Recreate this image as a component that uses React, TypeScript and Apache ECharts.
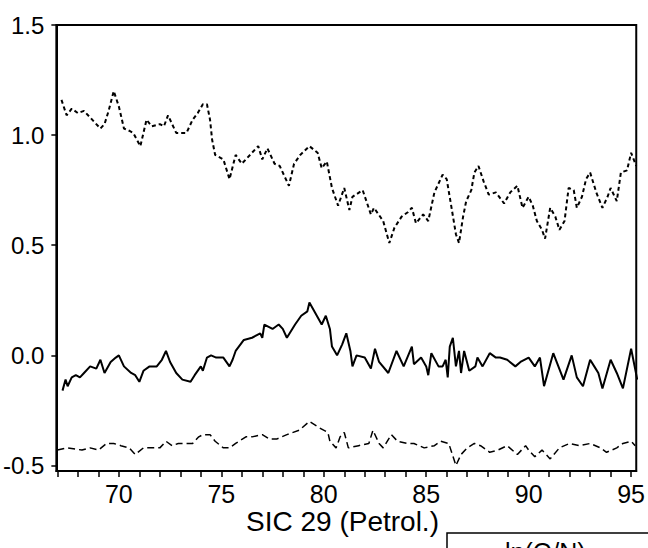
import React, { useEffect, useRef } from "react";
import * as echarts from "echarts";

// x positions (years) and values
const topYears = [67.2,67.45,67.7,68.0,68.3,68.6,68.8,69.1,69.3,69.5,69.75,70.0,70.25,70.5,70.7,71.05,71.35,71.6,72.0,72.2,72.4,72.8,73.1,73.3,73.6,73.85,74.1,74.3,74.45,74.55,74.7,75.1,75.4,75.7,76.0,76.4,76.8,77.0,77.25,77.6,77.85,78.3,78.55,78.85,79.3,79.7,79.9,80.15,80.4,80.7,81.0,81.25,81.4,81.9,82.3,82.45,82.9,83.2,83.45,83.8,84.1,84.3,84.5,84.85,85.1,85.4,85.8,86.0,86.2,86.45,86.6,86.8,86.95,87.2,87.35,87.55,87.8,88.05,88.4,88.8,89.1,89.45,89.7,90.0,90.2,90.4,90.65,90.8,91.05,91.3,91.5,91.75,91.95,92.2,92.35,92.6,92.8,93.0,93.3,93.6,93.85,94.0,94.3,94.5,94.8,95.0,95.25];
const topValues = [1.16,1.09,1.12,1.10,1.11,1.08,1.06,1.03,1.05,1.11,1.20,1.13,1.03,1.02,1.01,0.95,1.07,1.04,1.05,1.04,1.09,1.01,1.01,1.01,1.07,1.10,1.14,1.14,1.07,0.98,0.91,0.89,0.80,0.91,0.87,0.91,0.95,0.89,0.94,0.87,0.86,0.77,0.87,0.91,0.95,0.92,0.85,0.88,0.76,0.68,0.76,0.66,0.72,0.75,0.64,0.67,0.61,0.51,0.58,0.63,0.65,0.67,0.60,0.64,0.61,0.74,0.82,0.80,0.69,0.55,0.51,0.63,0.70,0.75,0.83,0.86,0.79,0.73,0.74,0.69,0.74,0.77,0.67,0.72,0.68,0.61,0.57,0.53,0.67,0.63,0.57,0.61,0.76,0.75,0.67,0.72,0.80,0.83,0.74,0.67,0.72,0.76,0.70,0.83,0.84,0.92,0.86];

const midYears = [67.25,67.4,67.5,67.7,67.9,68.1,68.3,68.6,68.9,69.1,69.3,69.6,69.85,70.0,70.25,70.6,70.8,71.0,71.2,71.5,71.85,72.1,72.3,72.5,72.8,73.1,73.5,73.7,74.0,74.1,74.3,74.5,74.75,75.1,75.4,75.55,75.7,76.1,76.5,76.9,77.0,77.1,77.5,77.8,78.0,78.2,78.6,78.9,79.2,79.3,79.6,79.9,80.1,80.3,80.4,80.65,80.9,81.1,81.3,81.4,81.6,82.0,82.3,82.5,82.7,83.15,83.55,83.9,84.3,84.4,84.75,85.0,85.1,85.25,85.6,85.8,85.95,86.05,86.15,86.3,86.45,86.6,86.7,86.85,87.1,87.4,87.5,87.75,88.1,88.4,88.6,88.95,89.35,89.6,90.0,90.3,90.55,90.75,91.2,91.7,92.1,92.35,92.65,93.0,93.2,93.4,93.6,94.0,94.3,94.6,95.0,95.3];
const midValues = [-0.16,-0.11,-0.14,-0.10,-0.09,-0.10,-0.08,-0.05,-0.06,-0.02,-0.08,-0.03,-0.01,0.00,-0.05,-0.08,-0.09,-0.12,-0.07,-0.05,-0.05,-0.02,0.02,-0.03,-0.08,-0.11,-0.12,-0.09,-0.05,-0.07,-0.01,0.00,-0.01,-0.01,-0.05,-0.02,0.02,0.07,0.08,0.10,0.08,0.14,0.12,0.14,0.12,0.08,0.14,0.18,0.20,0.24,0.19,0.14,0.18,0.12,0.04,0.00,0.05,0.10,0.02,-0.05,0.00,-0.01,-0.06,0.03,-0.03,-0.08,0.02,-0.05,0.04,-0.04,-0.01,-0.05,-0.09,0.01,-0.05,-0.05,-0.02,-0.10,0.04,0.08,-0.05,0.02,-0.08,0.02,-0.07,-0.05,-0.01,-0.05,0.01,-0.01,-0.01,-0.02,-0.05,-0.03,-0.01,-0.05,-0.01,-0.14,0.01,-0.11,0.00,-0.10,-0.14,-0.02,-0.05,-0.08,-0.15,-0.02,-0.08,-0.15,0.03,-0.11];

const lowYears = [67.0,67.5,68.2,68.6,69.0,69.4,69.75,70.1,70.5,70.8,71.2,71.7,72.0,72.3,72.6,72.9,73.2,73.6,73.9,74.1,74.45,74.7,75.1,75.4,75.7,76.2,76.5,77.0,77.35,77.7,78.2,78.8,79.3,79.8,80.2,80.3,80.6,80.8,81.0,81.2,81.7,82.2,82.4,82.7,82.9,83.3,83.6,84.1,84.4,84.9,85.4,85.7,86.1,86.45,86.7,87.0,87.35,87.65,88.1,88.5,88.95,89.45,89.85,90.0,90.3,90.65,91.05,91.5,92.0,92.5,93.0,93.5,93.8,94.3,94.6,95.0,95.2];
const lowValues = [-0.43,-0.42,-0.43,-0.42,-0.43,-0.40,-0.40,-0.41,-0.42,-0.45,-0.42,-0.42,-0.42,-0.39,-0.41,-0.40,-0.40,-0.40,-0.37,-0.36,-0.36,-0.39,-0.42,-0.42,-0.40,-0.37,-0.37,-0.36,-0.38,-0.38,-0.36,-0.34,-0.30,-0.33,-0.35,-0.39,-0.42,-0.37,-0.35,-0.42,-0.41,-0.40,-0.34,-0.40,-0.42,-0.36,-0.39,-0.40,-0.40,-0.42,-0.41,-0.39,-0.40,-0.50,-0.45,-0.42,-0.40,-0.41,-0.44,-0.43,-0.41,-0.45,-0.41,-0.43,-0.46,-0.43,-0.47,-0.42,-0.40,-0.41,-0.40,-0.42,-0.44,-0.42,-0.40,-0.39,-0.41];

const yTickValues = [-0.5, 0, 0.5, 1.0, 1.5];
const xLabelValues = [70, 75, 80, 85, 90, 95];
const xTickValues = [67,68,69,70,71,72,73,74,75,76,77,78,79,80,81,82,83,84,85,86,87,88,89,90,91,92,93,94,95];

const title = "SIC 29 (Petrol.)";
const legendText = "ln(Q/N)";

const zip = (xs: number[], ys: number[]) => xs.map((x, i) => [x, ys[i]]);

export default function App() {
  const ref = useRef<HTMLDivElement>(null);
  useEffect(() => {
    if (!ref.current) return;
    const chart = echarts.init(ref.current, null, { renderer: "svg" });
    const font = "'Liberation Sans', Arial, sans-serif";
    chart.setOption({
      animation: false,
      backgroundColor: "#fff",
      grid: {
        left: 53,
        right: 11,
        top: 25,
        bottom: 77,
        show: true,
        borderColor: "#000",
        borderWidth: 2,
        backgroundColor: "transparent",
      },
      xAxis: {
        type: "value",
        min: 66.95,
        max: 95.25,
        axisLine: { show: true, onZero: false, lineStyle: { color: "#000", width: 2 } },
        axisTick: { show: true, length: 6, customValues: xTickValues, lineStyle: { color: "#000", width: 1.5 } },
        axisLabel: {
          customValues: xLabelValues,
          color: "#000",
          fontFamily: font,
          fontSize: 25,
          margin: 10,
          formatter: (v: number) => String(v),
        },
        splitLine: { show: false },
      },
      yAxis: {
        type: "value",
        min: -0.525,
        max: 1.5,
        axisLine: { show: true, onZero: false, lineStyle: { color: "#000", width: 2 } },
        axisTick: { show: true, length: 5, customValues: yTickValues, lineStyle: { color: "#000", width: 1.5 } },
        axisLabel: {
          customValues: yTickValues,
          color: "#000",
          fontFamily: font,
          fontSize: 24,
          margin: 12,
          formatter: (v: number) => v.toFixed(1),
        },
        splitLine: { show: false },
      },
      series: [
        {
          type: "line",
          data: zip(topYears, topValues),
          showSymbol: false,
          lineStyle: { color: "#000", width: 2, type: [4, 3] },
        },
        {
          type: "line",
          data: zip(midYears, midValues),
          showSymbol: false,
          lineStyle: { color: "#000", width: 2 },
        },
        {
          type: "line",
          data: zip(lowYears, lowValues),
          showSymbol: false,
          lineStyle: { color: "#000", width: 1.5, type: [7, 4] },
        },
      ],
      graphic: [
        {
          type: "text",
          left: 246,
          top: 507,
          style: { text: title, font: `28px ${font}`, fill: "#000" },
        },
        {
          type: "rect",
          shape: { x: 447, y: 533, width: 230, height: 40 },
          style: { fill: "none", stroke: "#000", lineWidth: 1.5 },
        },
        {
          type: "text",
          x: 505,
          y: 539,
          style: { text: legendText, font: `25px ${font}`, fill: "#000" },
        },
      ],
    });
    return () => chart.dispose();
  }, []);
  return (
    <div
      ref={ref}
      style={{ position: "fixed", left: 0, top: 0, width: 648, height: 548, background: "#fff" }}
    />
  );
}
